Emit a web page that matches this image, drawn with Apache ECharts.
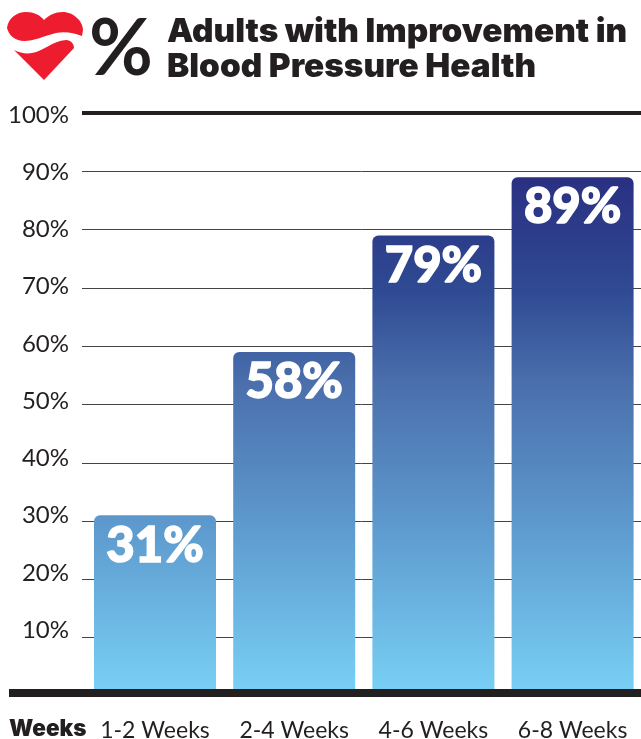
<!DOCTYPE html>
<html>
<head>
<meta charset="utf-8">
<style>
html,body{margin:0;padding:0;background:#fff}
#main{width:641px;height:739px}
</style>
<script src="https://cdn.jsdelivr.net/npm/echarts@6/dist/echarts.min.js"></script>
</head>
<body>
<div id="main"></div>
<script>
var categories = ['1-2 Weeks', '2-4 Weeks', '4-6 Weeks', '6-8 Weeks'];
//printed values
var improved = [31, 58, 79, 89];
//height the bars are actually drawn at: the 58% bar reaches about 59 in the picture
var barHeights = [31, 59, 79, 89];
var gridTicks = [10, 20, 30, 40, 50, 60, 70, 80, 90];
var topTick = 100;
var titleLines = ['Adults with Improvement in', 'Blood Pressure Health'];
var font = 'Lato, sans-serif';
var heavyFont = 'Inter, sans-serif';

//heart logo, two pieces split by the white ribbon
echarts.graphic.registerShape('heartTop', echarts.graphic.extendPath('M7 28C8 18 17 12 26 12C34 12 40 15 44 20C49 15 55 12 63 12C73 12 83 21 83 30L82 36C74 33 65 31 56 33C44 36 34 41 24 41C16 41 9 36 7 28Z'));
echarts.graphic.registerShape('heartBottom', echarts.graphic.extendPath('M14 50C20 53 26 54 32 53C44 51 52 41 66 40C71 40 74 44 74 48L44 80Z'));

var chart = echarts.init(document.getElementById('main'), null, {renderer: 'canvas'});

//grid lines run further left than the bars, so they are mark lines
var gridLines = gridTicks.map(function (v) {
    return [{x: 82, yAxis: v}, {x: 641, yAxis: v}];
});

chart.setOption({
    animation: false,
    backgroundColor: '#fff',
    grid: [
        {left: 85.4, top: 113, width: 556.8, height: 583, outerBoundsMode: 'none'},
        //tick labels are spaced a little tighter than the grid lines in the original
        {left: 82, top: 115, width: 556, height: 572.5, outerBoundsMode: 'none'}
    ],
    xAxis: [
        {
            type: 'category',
            data: categories,
            axisLine: {show: false},
            axisTick: {show: false},
            axisLabel: {interval: 0, margin: 23, fontFamily: font, fontSize: 23, color: '#231f20'}
        },
        {type: 'category', gridIndex: 1, data: categories, show: false}
    ],
    yAxis: [
        {
            type: 'value',
            min: 0,
            max: 100,
            interval: 10,
            splitLine: {show: false},
            axisLine: {show: false},
            axisTick: {show: false},
            axisLabel: {show: false}
        },
        {
            type: 'value',
            gridIndex: 1,
            min: 0,
            max: 100,
            interval: 10,
            splitLine: {show: false},
            axisLine: {show: false},
            axisTick: {show: false},
            axisLabel: {
                margin: 13,
                fontFamily: font,
                fontSize: 24,
                color: '#231f20',
                formatter: function (v) { return v === 0 ? '' : v + '%'; }
            }
        }
    ],
    series: [
        {
            name: 'gridlines',
            type: 'line',
            data: [],
            z: 1,
            silent: true,
            markLine: {
                silent: true,
                z: 1,
                symbol: 'none',
                label: {show: false},
                lineStyle: {type: 'solid', color: '#444', width: 1},
                data: gridLines.concat([[
                    {x: 82, yAxis: topTick, lineStyle: {color: '#231f20', width: 4}},
                    {x: 641, yAxis: topTick}
                ]])
            }
        },
        {
            name: 'Adults with improvement',
            type: 'bar',
            data: barHeights,
            barWidth: 122,
            z: 2,
            itemStyle: {
                borderRadius: [6, 6, 0, 0],
                color: new echarts.graphic.LinearGradient(0, 178, 0, 690, [
                    {offset: 0, color: '#2a3082'},
                    {offset: 0.22, color: '#2f4a93'},
                    {offset: 0.4, color: '#4a6fac'},
                    {offset: 0.7, color: '#5f9dd0'},
                    {offset: 1, color: '#78cff5'}
                ], true)
            },
            label: {
                show: true,
                position: 'insideTop',
                distance: 6,
                fontFamily: font,
                fontWeight: 900,
                fontSize: 49,
                color: '#fff',
                textBorderColor: '#fff',
                textBorderWidth: 1.5,
                formatter: function (p) { return improved[p.dataIndex] + '%'; }
            }
        }
    ],
    graphic: [
        //thick baseline, sits over the foot of the bars
        {type: 'rect', z: 10, shape: {x: 9, y: 689, width: 632, height: 8}, style: {fill: '#231f20'}},
        {type: 'text', z: 10, left: 9, top: 718, style: {text: 'Weeks', font: '900 22.5px ' + heavyFont, fill: '#231f20'}},
        {type: 'text', z: 10, left: 167, top: 15, style: {text: titleLines[0], font: '900 33.3px ' + heavyFont, fill: '#231f20'}},
        {type: 'text', z: 10, left: 167, top: 50, style: {text: titleLines[1], font: '900 33.3px ' + heavyFont, fill: '#231f20'}},
        {type: 'text', z: 10, left: 89, top: 11, style: {text: '%', font: '700 78px ' + font, fill: '#231f20'}},
        {type: 'heartTop', z: 10, style: {fill: '#ed1c2e'}},
        {type: 'heartBottom', z: 10, style: {fill: '#ed1c2e'}}
    ]
});
</script>
</body>
</html>
